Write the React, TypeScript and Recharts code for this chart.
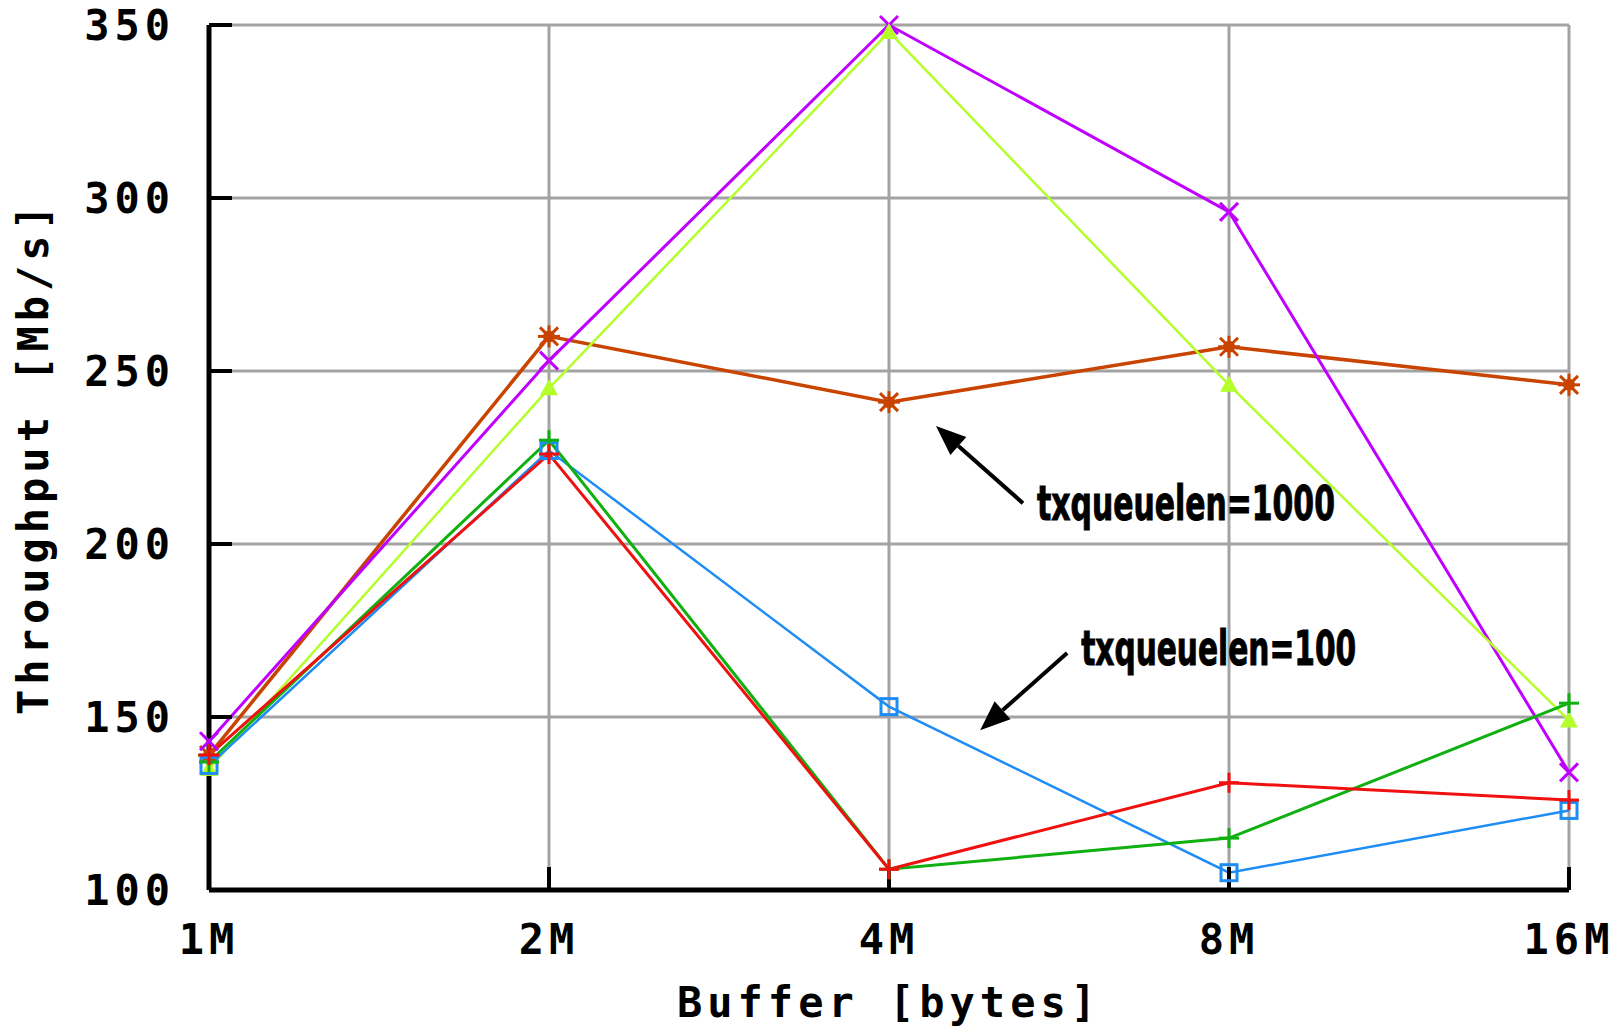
import React from "react";
import {
  LineChart,
  Line,
  XAxis,
  YAxis,
  CartesianGrid,
  ReferenceLine,
} from "recharts";

// buffer sizes on the x axis (log2 steps)
const buffers = ["1M", "2M", "4M", "8M", "16M"];
const yTicks = [100, 150, 200, 250, 300, 350];

// txqueuelen=100 runs
const redRun = [139, 226, 106, 131, 126];
const greenRun = [137, 230, 106, 115, 154];
const blueRun = [136, 227, 153, 105, 123];
// txqueuelen=1000 runs
const limeRun = [135, 245, 348, 246, 149];
const purpleRun = [143, 253, 350, 296, 134];
const brownRun = [139, 260, 241, 257, 246];

const data = buffers.map((b, i) => ({
  x: i,
  red: redRun[i],
  green: greenRun[i],
  blue: blueRun[i],
  lime: limeRun[i],
  purple: purpleRun[i],
  brown: brownRun[i],
}));

const pixelFont = "'DejaVu Sans Mono', 'Liberation Mono', monospace";
const noteFont = "'Liberation Sans Narrow', 'DejaVu Sans Condensed', 'Roboto', sans-serif";

// marker shapes, gnuplot style
const plus = (color: string) => (p: any) => (
  <g key={p.key ?? `${color}-${p.index}`}>
    <line x1={p.cx - 10} y1={p.cy} x2={p.cx + 10} y2={p.cy} stroke={color} strokeWidth={3} />
    <line x1={p.cx} y1={p.cy - 10} x2={p.cx} y2={p.cy + 10} stroke={color} strokeWidth={3} />
  </g>
);
const cross = (color: string) => (p: any) => (
  <g key={p.key ?? `${color}-${p.index}`}>
    <line x1={p.cx - 9} y1={p.cy - 9} x2={p.cx + 9} y2={p.cy + 9} stroke={color} strokeWidth={3} />
    <line x1={p.cx - 9} y1={p.cy + 9} x2={p.cx + 9} y2={p.cy - 9} stroke={color} strokeWidth={3} />
  </g>
);
const square = (color: string) => (p: any) => (
  <rect
    key={p.key ?? `${color}-${p.index}`}
    x={p.cx - 8}
    y={p.cy - 8}
    width={16}
    height={16}
    fill="none"
    stroke={color}
    strokeWidth={3}
  />
);
const triangle = (color: string) => (p: any) => (
  <path
    key={p.key ?? `${color}-${p.index}`}
    d={`M${p.cx},${p.cy - 9} L${p.cx + 9},${p.cy + 7} L${p.cx - 9},${p.cy + 7} Z`}
    fill={color}
  />
);
const star = (color: string) => (p: any) => (
  <g key={p.key ?? `${color}-${p.index}`}>
    <circle cx={p.cx} cy={p.cy} r={6} fill={color} />
    <line x1={p.cx - 11} y1={p.cy} x2={p.cx + 11} y2={p.cy} stroke={color} strokeWidth={3} />
    <line x1={p.cx} y1={p.cy - 11} x2={p.cx} y2={p.cy + 11} stroke={color} strokeWidth={3} />
    <line x1={p.cx - 9} y1={p.cy - 9} x2={p.cx + 9} y2={p.cy + 9} stroke={color} strokeWidth={3} />
    <line x1={p.cx - 9} y1={p.cy + 9} x2={p.cx + 9} y2={p.cy - 9} stroke={color} strokeWidth={3} />
  </g>
);

// arrow from the label (x1,y1) to the point (x2,y2), text next to the tail
const arrowNote = (text: string, width: number, dy: number) => (p: any) => {
  const { x1, y1, x2, y2 } = p;
  const ang = Math.atan2(y2 - y1, x2 - x1);
  const len = 30;
  const half = 12;
  const bx = x2 - len * Math.cos(ang);
  const by = y2 - len * Math.sin(ang);
  const nx = -Math.sin(ang) * half;
  const ny = Math.cos(ang) * half;
  return (
    <g>
      <line x1={x1} y1={y1} x2={bx} y2={by} stroke="#000" strokeWidth={4} />
      <polygon points={`${x2},${y2} ${bx + nx},${by + ny} ${bx - nx},${by - ny}`} fill="#000" />
      <text
        x={x1 + 14}
        y={y1 + dy}
        fontFamily={noteFont}
        fontWeight="bold"
        fontSize={48}
        textLength={width}
        lengthAdjust="spacingAndGlyphs"
        fill="#000"
        stroke="#000"
        strokeWidth={1}
      >
        {text}
      </text>
    </g>
  );
};

const tickStyle = {
  fill: "#000",
  fontFamily: pixelFont,
  fontWeight: "bold",
  fontSize: 42,
  letterSpacing: 5,
};

export default function App() {
  return (
    <div style={{ position: "absolute", left: 0, top: 0, background: "#fff" }}>
      <LineChart
        width={1623}
        height={1032}
        data={data}
        margin={{ top: 24, right: 53, bottom: 0, left: 0 }}
      >
        {/* grey grid at every tick */}
        <CartesianGrid stroke="#a3a3a3" strokeWidth={3} />

        {/* bottom axis with inward ticks */}
        <XAxis
          dataKey="x"
          type="number"
          domain={[0, 4]}
          ticks={[0, 1, 2, 3, 4]}
          tickFormatter={(v: number) => buffers[v]}
          height={142}
          tickSize={-23}
          tickMargin={57}
          axisLine={{ stroke: "#000", strokeWidth: 5 }}
          tickLine={{ stroke: "#000", strokeWidth: 4 }}
          tick={tickStyle}
          label={{
            content: (props: any) => {
              const vb = props.viewBox;
              return (
                <text
                  x={vb.x + vb.width / 2}
                  y={vb.y + 127}
                  textAnchor="middle"
                  fontFamily={pixelFont}
                  fontWeight="bold"
                  fontSize={42}
                  letterSpacing={5}
                  fill="#000"
                >
                  Buffer [bytes]
                </text>
              );
            },
          }}
        />
        {/* mirrored ticks on top */}
        <XAxis
          xAxisId="top"
          orientation="top"
          dataKey="x"
          type="number"
          domain={[0, 4]}
          ticks={[0, 1, 2, 3, 4]}
          height={1}
          tickSize={-23}
          axisLine={false}
          tickLine={{ stroke: "#000", strokeWidth: 4 }}
          tick={false}
        />

        <YAxis
          type="number"
          domain={[100, 350]}
          ticks={yTicks}
          width={209}
          tickSize={-23}
          tickMargin={57}
          axisLine={{ stroke: "#000", strokeWidth: 5 }}
          tickLine={{ stroke: "#000", strokeWidth: 4 }}
          tick={tickStyle}
          label={{
            content: (props: any) => {
              const vb = props.viewBox;
              const cx = vb.x + 33;
              const cy = vb.y + vb.height / 2;
              return (
                <text
                  x={cx}
                  y={cy}
                  transform={`rotate(-90 ${cx} ${cy})`}
                  textAnchor="middle"
                  dominantBaseline="central"
                  fontFamily={pixelFont}
                  fontWeight="bold"
                  fontSize={42}
                  letterSpacing={5}
                  fill="#000"
                >
                  Throughput [Mb/s]
                </text>
              );
            },
          }}
        />
        {/* mirrored ticks on the right */}
        <YAxis
          yAxisId="right"
          orientation="right"
          type="number"
          domain={[100, 350]}
          ticks={yTicks}
          width={1}
          tickSize={-23}
          axisLine={false}
          tickLine={{ stroke: "#000", strokeWidth: 4 }}
          tick={false}
        />

        <Line dataKey="brown" stroke="#c84400" strokeWidth={3.5} dot={star("#c84400")} isAnimationActive={false} />
        <Line dataKey="purple" stroke="#c000ff" strokeWidth={3} dot={cross("#c000ff")} isAnimationActive={false} />
        <Line dataKey="lime" stroke="#b4ff2a" strokeWidth={2.5} dot={triangle("#b4ff2a")} isAnimationActive={false} />
        <Line dataKey="blue" stroke="#1e8cf5" strokeWidth={2.5} dot={square("#1e8cf5")} isAnimationActive={false} />
        <Line dataKey="green" stroke="#10b010" strokeWidth={3} dot={plus("#10b010")} isAnimationActive={false} />
        <Line dataKey="red" stroke="#f01010" strokeWidth={3} dot={plus("#f01010")} isAnimationActive={false} />

        {/* annotations */}
        <ReferenceLine
          segment={[
            { x: 2.394, y: 211.8 },
            { x: 2.138, y: 234.1 },
          ]}
          shape={arrowNote("txqueuelen=1000", 298, 17)}
        />
        <ReferenceLine
          segment={[
            { x: 2.524, y: 168.5 },
            { x: 2.268, y: 146.2 },
          ]}
          shape={arrowNote("txqueuelen=100", 275, 12)}
        />
      </LineChart>
    </div>
  );
}
